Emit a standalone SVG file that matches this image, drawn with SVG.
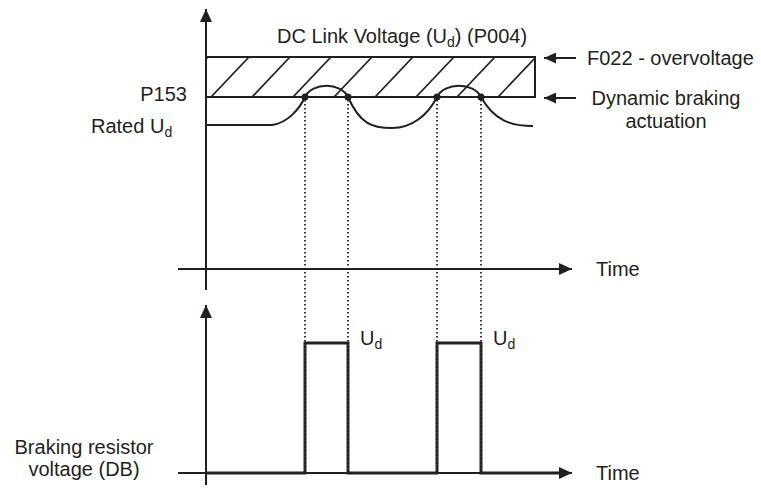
<svg xmlns="http://www.w3.org/2000/svg" width="761" height="489" viewBox="0 0 761 489">
<style>
  text { font-family: "Liberation Sans", Arial, sans-serif; font-size: 20px; fill: #231f20; }
  .sub { font-size: 14px; }
  .ax { stroke: #231f20; stroke-width: 2; fill: none; }
  .thin { stroke: #231f20; stroke-width: 1.7; fill: none; }
  .sig { stroke: #231f20; stroke-width: 3; fill: none; stroke-linejoin: miter; }
  .dot { stroke: #333; stroke-width: 2; stroke-dasharray: 1.6 2.4; fill: none; }
</style>
<defs>
  <marker id="ah" markerUnits="userSpaceOnUse" markerWidth="14" markerHeight="12" refX="13" refY="6" orient="auto">
    <path d="M0,0 L13,6 L0,12 z" fill="#231f20"/>
  </marker>
  <marker id="ahs" markerUnits="userSpaceOnUse" markerWidth="13" markerHeight="11" refX="12" refY="5.5" orient="auto">
    <path d="M0,0 L12,5.5 L0,11 z" fill="#231f20"/>
  </marker>
  <clipPath id="band"><rect x="206" y="57" width="329" height="40"/></clipPath>
</defs>
<rect width="761" height="489" fill="#ffffff"/>

<g id="upper-chart">
  <g id="hatch" clip-path="url(#band)" class="thin">
    <line x1="170" y1="97" x2="208" y2="57"/>
    <line x1="211" y1="97" x2="249" y2="57"/>
    <line x1="252" y1="97" x2="290" y2="57"/>
    <line x1="293" y1="97" x2="331" y2="57"/>
    <line x1="334" y1="97" x2="372" y2="57"/>
    <line x1="375" y1="97" x2="413" y2="57"/>
    <line x1="416" y1="97" x2="454" y2="57"/>
    <line x1="457" y1="97" x2="495" y2="57"/>
    <line x1="498" y1="97" x2="536" y2="57"/>
  </g>
  <path id="band-outline" class="ax" d="M206,57 H535 V97 H206"/>
  <path id="dc-voltage" class="ax" d="M206,125 L272,125 C288,123 300,108 305,97 C312,82 341,82 348,97 C360,124 372,128 392,128 C412,128 428,115 437,97 C444,82 474,82 481,97 C494,120 510,126 533,126"/>
  <g id="points" fill="#231f20">
    <circle cx="305" cy="97" r="3.5"/>
    <circle cx="348" cy="97" r="3.5"/>
    <circle cx="437" cy="97" r="3.5"/>
    <circle cx="481" cy="97" r="3.5"/>
  </g>
  <text x="402" y="43" text-anchor="middle">DC Link Voltage (U<tspan class="sub" dy="4">d</tspan><tspan dy="-4">) (P004)</tspan></text>
  <text x="187" y="101" text-anchor="end">P153</text>
  <text x="91" y="133">Rated U<tspan class="sub" dy="4">d</tspan></text>
  <text x="587" y="65">F022 - overvoltage</text>
  <text x="666" y="105" text-anchor="middle">Dynamic braking</text>
  <text x="666" y="128" text-anchor="middle">actuation</text>
  <text x="596" y="276">Time</text>
</g>

<g id="lower-chart">
  <path id="db-voltage" class="sig" d="M206,473 H305 V343 H348 V473 H437 V343 H481 V473 H560"/>
  <text x="360" y="345">U<tspan class="sub" dy="4">d</tspan></text>
  <text x="493" y="345">U<tspan class="sub" dy="4">d</tspan></text>
  <text x="84" y="454" text-anchor="middle">Braking resistor</text>
  <text x="84" y="476" text-anchor="middle">voltage (DB)</text>
  <text x="596" y="480">Time</text>
</g>

<g id="connectors">
  <line class="dot" x1="305" y1="100" x2="305" y2="472"/>
  <line class="dot" x1="348" y1="100" x2="348" y2="472"/>
  <line class="dot" x1="437" y1="100" x2="437" y2="472"/>
  <line class="dot" x1="481" y1="100" x2="481" y2="472"/>
  <line class="ax" x1="206" y1="290" x2="206" y2="9" marker-end="url(#ah)"/>
  <line class="ax" x1="178" y1="269" x2="572" y2="269" marker-end="url(#ah)"/>
  <line class="ax" x1="206" y1="485" x2="206" y2="305" marker-end="url(#ah)"/>
  <line class="ax" x1="178" y1="473" x2="572" y2="473" marker-end="url(#ah)"/>
  <line class="ax" x1="576" y1="58" x2="544" y2="58" marker-end="url(#ahs)"/>
  <line class="ax" x1="576" y1="98" x2="544" y2="98" marker-end="url(#ahs)"/>
</g>
</svg>
